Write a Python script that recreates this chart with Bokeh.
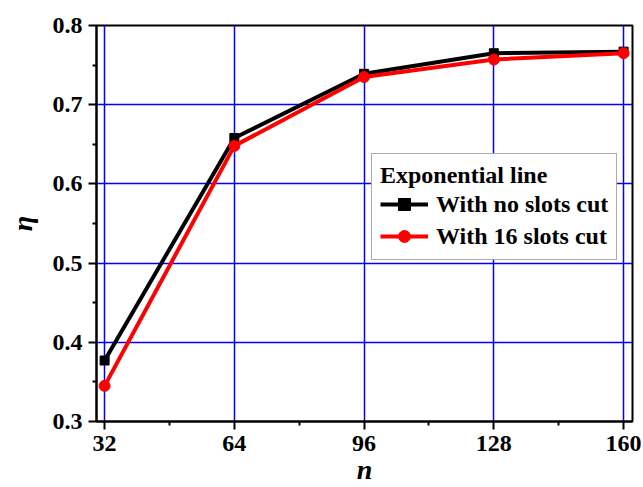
from bokeh.plotting import figure
from bokeh.models import Legend, LegendItem, FixedTicker, Range1d
from bokeh.embed import file_html
from bokeh.resources import INLINE

n_values = [32, 64, 96, 128, 160]
eta_no_slots = [0.377, 0.658, 0.739, 0.765, 0.767]
eta_16_slots = [0.345, 0.648, 0.735, 0.757, 0.765]
x_ticks = [32, 64, 96, 128, 160]
y_ticks = [0.3, 0.4, 0.5, 0.6, 0.7, 0.8]

FONT = "Liberation Serif"

p = figure(width=643, height=487, output_backend="svg", toolbar_location=None,
           x_range=Range1d(30, 162.2), y_range=Range1d(0.3, 0.8),
           min_border_left=96, min_border_right=11, min_border_top=25, min_border_bottom=65)

p.outline_line_color = "black"
p.outline_line_width = 2

for ax in (p.xaxis[0], p.yaxis[0]):
    ax.axis_line_width = 2
    ax.axis_line_color = "black"
    ax.major_tick_line_color = "black"
    ax.minor_tick_line_color = "black"
    ax.major_tick_line_width = 2
    ax.minor_tick_line_width = 2
    ax.major_tick_out = 8
    ax.major_tick_in = 0
    ax.minor_tick_out = 4
    ax.minor_tick_in = 0
    ax.major_label_text_font = FONT
    ax.major_label_text_font_style = "bold"
    ax.major_label_text_font_size = "24px"
    ax.major_label_text_color = "black"
    ax.axis_label_text_font = FONT
    ax.axis_label_text_font_style = "bold italic"
    ax.axis_label_text_font_size = "28px"
    ax.axis_label_text_color = "black"

p.xaxis.ticker = FixedTicker(ticks=x_ticks, minor_ticks=[48, 80, 112, 144])
p.yaxis.ticker = FixedTicker(ticks=y_ticks, minor_ticks=[0.35, 0.45, 0.55, 0.65, 0.75])
p.yaxis.formatter.use_scientific = False
p.xaxis.axis_label = "n"
p.yaxis.axis_label = "η"
p.xaxis.major_label_standoff = 6
p.yaxis.major_label_standoff = 6
p.xaxis.axis_label_standoff = 0
p.yaxis.axis_label_standoff = 12

p.xgrid.grid_line_color = "#0000ff"
p.ygrid.grid_line_color = "#0000ff"
p.xgrid.grid_line_width = 1.5
p.ygrid.grid_line_width = 1.5

l1 = p.line(n_values, eta_no_slots, line_color="black", line_width=4)
m1 = p.scatter(n_values, eta_no_slots, marker="square", size=9, color="black")
l2 = p.line(n_values, eta_16_slots, line_color="red", line_width=4)
m2 = p.scatter(n_values, eta_16_slots, marker="circle", size=11, color="red")

legend = Legend(items=[LegendItem(label="With no slots cut", renderers=[l1, m1]),
                       LegendItem(label="With 16 slots cut", renderers=[l2, m2])],
                location=(275, 161))
legend.title = "Exponential line"
legend.title_text_font = FONT
legend.title_text_font_style = "bold"
legend.title_text_font_size = "24px"
legend.title_text_color = "black"
legend.title_standoff = 0
legend.label_text_font = FONT
legend.label_text_font_style = "bold"
legend.label_text_font_size = "24px"
legend.label_text_color = "black"
legend.glyph_width = 48
legend.glyph_height = 30
legend.label_height = 30
legend.spacing = 2
legend.padding = 8
legend.margin = 0
legend.label_standoff = 8
legend.border_line_color = "#555555"
legend.border_line_width = 1.5
legend.background_fill_alpha = 1.0
p.add_layout(legend, "center")

open("out.html", "w").write(file_html(p, INLINE))
